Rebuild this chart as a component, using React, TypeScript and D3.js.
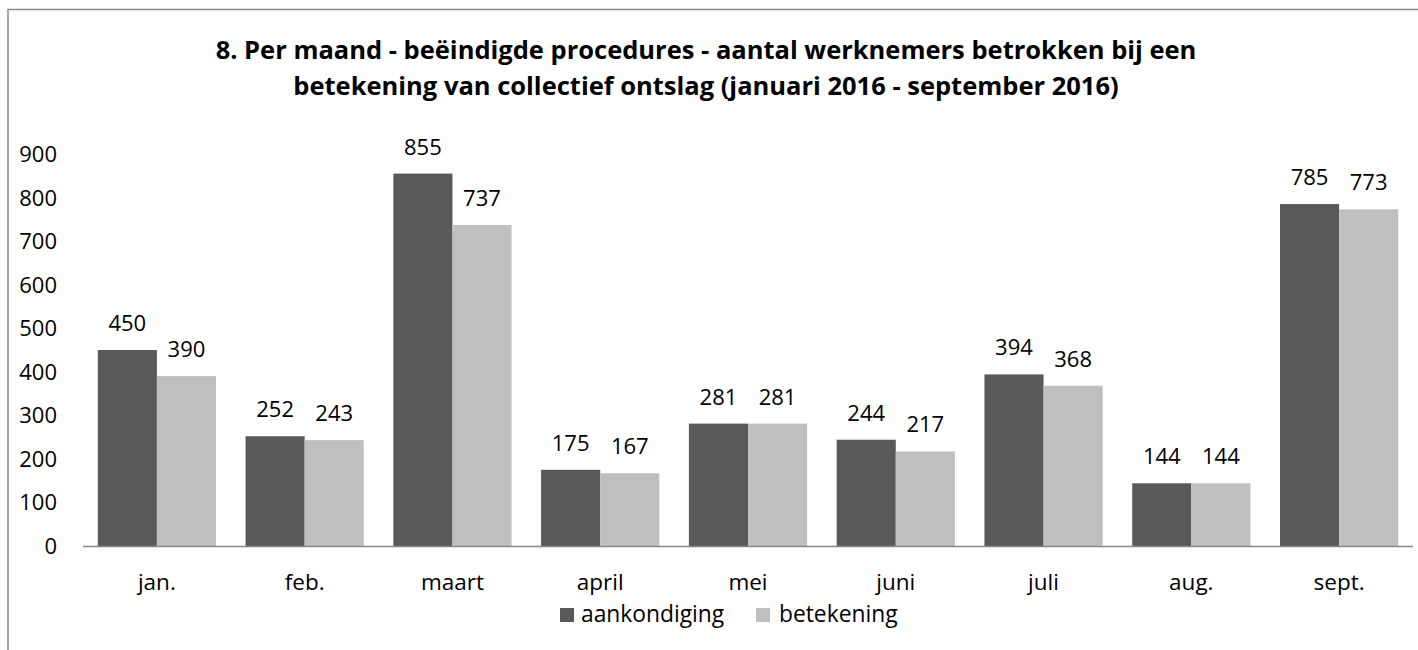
import React from "react";
import * as d3 from "d3";

const months = ["jan.", "feb.", "maart", "april", "mei", "juni", "juli", "aug.", "sept."];
const aankondiging = [450, 252, 855, 175, 281, 244, 394, 144, 785];
const betekening = [390, 243, 737, 167, 281, 217, 368, 144, 773];
const seriesNames = ["aankondiging", "betekening"];
const yTicks = [0, 100, 200, 300, 400, 500, 600, 700, 800, 900];
const titleLines = [
  "8. Per maand - beëindigde procedures - aantal werknemers betrokken bij een",
  "betekening van collectief ontslag (januari 2016 - september 2016)",
];

const colors = ["#595959", "#BFBFBF"];
const font = "'Open Sans', sans-serif";

export default function App() {
  const W = 1418;
  const H = 650;
  const left = 83;
  const right = 1413;
  const top = 154;
  const bottom = 546;

  const x0 = d3.scaleBand<string>().domain(months).range([left, right]).padding(0);
  const step = x0.step();
  const x1 = d3
    .scaleBand<string>()
    .domain(seriesNames)
    .range([step * 0.1, step * 0.9])
    .padding(0);
  const y = d3.scaleLinear().domain([0, 900]).range([bottom, top]);
  const data = [aankondiging, betekening];

  return (
    <svg
      width={W}
      height={H}
      style={{ position: "absolute", left: 0, top: 0, display: "block" }}
    >
      <rect x={0} y={0} width={W} height={H} fill="#fff" />
      <rect x={8} y={9.5} width={W + 20} height={H + 20} fill="none" stroke="#8a8a8a" strokeWidth={1.5} />
      {titleLines.map((t, i) => (
        <text
          key={i}
          x={706}
          y={59 + i * 36}
          textAnchor="middle"
          fontFamily={font}
          fontWeight="bold"
          fontSize={25.5}
          fill="#000"
        >
          {t}
        </text>
      ))}
      {yTicks.map((t) => (
        <text
          key={t}
          x={57}
          y={y(t) + 8}
          textAnchor="end"
          fontFamily={font}
          fontSize={22}
          fill="#000"
        >
          {t}
        </text>
      ))}
      {months.map((m, i) => (
        <g key={m} transform={`translate(${x0(m)},0)`}>
          {seriesNames.map((s, j) => {
            const v = data[j][i];
            const bx = x1(s)!;
            const bw = x1.bandwidth();
            return (
              <g key={s}>
                <rect x={bx} y={y(v)} width={bw} height={y(0) - y(v)} fill={colors[j]} />
                <text
                  x={bx + bw / 2}
                  y={y(v) - 19}
                  textAnchor="middle"
                  fontFamily={font}
                  fontSize={22}
                  fill="#000"
                >
                  {v}
                </text>
              </g>
            );
          })}
          <text
            x={step / 2}
            y={590}
            textAnchor="middle"
            fontFamily={font}
            fontSize={22.5}
            fill="#000"
          >
            {m}
          </text>
        </g>
      ))}
      <line x1={left} x2={right} y1={bottom + 0.5} y2={bottom + 0.5} stroke="#868686" strokeWidth={1.5} />
      <g>
        <rect x={560} y={608} width={14} height={14} fill={colors[0]} />
        <text x={581} y={622} fontFamily={font} fontSize={22.8} fill="#000">
          {seriesNames[0]}
        </text>
        <rect x={756} y={608} width={14} height={14} fill={colors[1]} />
        <text x={779} y={622} fontFamily={font} fontSize={22.8} fill="#000">
          {seriesNames[1]}
        </text>
      </g>
    </svg>
  );
}
